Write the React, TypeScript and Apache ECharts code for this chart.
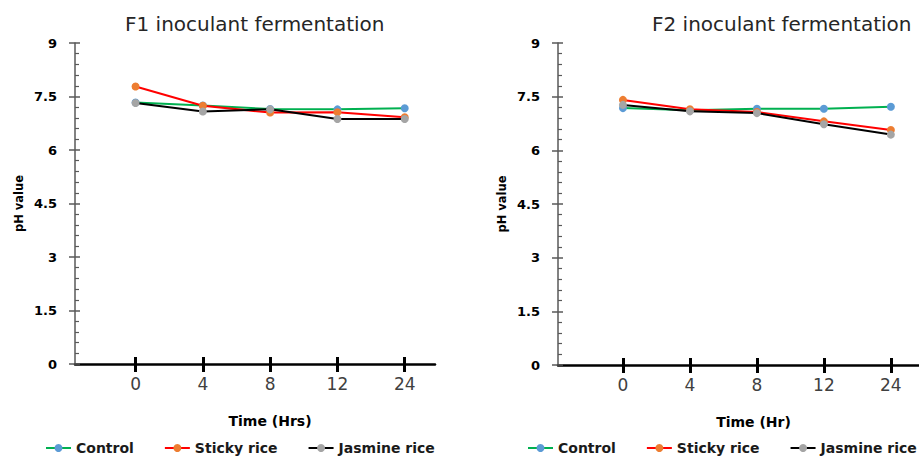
import React, { useEffect, useRef } from "react";
import * as echarts from "echarts";

const timeLabels = ["0", "4", "8", "12", "24"];
const seriesNames = ["Control", "Sticky rice", "Jasmine rice"];
const controlF1 = [7.33, 7.25, 7.15, 7.14, 7.17];
const stickyF1 = [7.78, 7.24, 7.05, 7.06, 6.92];
const jasmineF1 = [7.32, 7.08, 7.14, 6.87, 6.87];
const controlF2 = [7.18, 7.12, 7.16, 7.16, 7.22];
const stickyF2 = [7.41, 7.15, 7.07, 6.81, 6.57];
const jasmineF2 = [7.27, 7.09, 7.04, 6.73, 6.44];
const titles = ["F1 inoculant fermentation", "F2 inoculant fermentation"];
const xNames = ["Time (Hrs)", "Time (Hr)"];
const yName = "pH value";

const lineColors = ["#00b050", "#ff0000", "#000000"];
const markerColors = ["#5b9bd5", "#ed7d31", "#a5a5a5"];
const FONT = "'DejaVu Sans', sans-serif";

export default function App() {
  const ref = useRef<HTMLDivElement>(null);
  useEffect(() => {
    if (!ref.current) return;
    const chart = echarts.init(ref.current, null, { renderer: "svg" });
    const idx = timeLabels.map((_, i) => i);
    const grids = [
      { left: 75, top: 43, width: 360, height: 321 },
      { left: 558, top: 43, width: 361, height: 322 },
    ];
    const xRanges = [
      [-0.9, 4.45],
      [-0.97, 4.42],
    ];
    const panels = [
      [controlF1, stickyF1, jasmineF1],
      [controlF2, stickyF2, jasmineF2],
    ];
    const xAxis: any[] = [];
    const yAxis: any[] = [];
    const series: any[] = [];
    grids.forEach((_, g) => {
      xAxis.push({
        type: "value",
        gridIndex: g,
        position: "bottom",
        min: xRanges[g][0],
        max: xRanges[g][1],
        splitLine: { show: false },
        axisLine: { show: true, onZero: false, lineStyle: { color: "#000", width: 2.5 } },
        axisTick: { show: true, customValues: idx, length: 8, lineStyle: { color: "#000", width: 3 } },
        axisLabel: {
          customValues: idx,
          formatter: (v: number) => timeLabels[Math.round(v)] ?? "",
          fontSize: 17,
          color: "#404040",
          fontFamily: FONT,
          margin: 11,
        },
        name: xNames[g],
        nameLocation: "middle",
        nameGap: 50,
        nameTextStyle: { fontSize: 14, fontWeight: "bold", color: "#000", fontFamily: FONT, padding: [0, 0, 0, 30] },
      });
      xAxis.push({
        type: "value",
        gridIndex: g,
        position: "bottom",
        min: xRanges[g][0],
        max: xRanges[g][1],
        splitLine: { show: false },
        axisLine: { show: false, onZero: false },
        axisTick: { show: true, inside: true, customValues: idx, length: 7, lineStyle: { color: "#000", width: 3 } },
        axisLabel: { show: false },
      });
      yAxis.push({
        type: "value",
        gridIndex: g,
        position: "left",
        min: 0,
        max: 9,
        interval: 1.5,
        splitLine: { show: false },
        axisLine: { show: true, onZero: false, lineStyle: { color: "#595959", width: 1.5 } },
        axisTick: { show: true, inside: true, length: 5, lineStyle: { color: "#595959", width: 1.5 } },
        minorTick: { show: true, splitNumber: 5, length: 4, lineStyle: { color: "#595959", width: 1.2 } },
        axisLabel: { fontSize: 13, fontWeight: "bold", color: "#000", fontFamily: FONT, margin: 18 },
        name: yName,
        nameLocation: "middle",
        nameRotate: 90,
        nameGap: 50,
        nameTextStyle: { fontSize: 11.5, fontWeight: "bold", color: "#000", fontFamily: FONT },
      });
      yAxis.push({
        type: "value",
        gridIndex: g,
        position: "left",
        min: 0,
        max: 9,
        interval: 1.5,
        splitLine: { show: false },
        axisLine: { show: false, onZero: false },
        axisTick: { show: true, inside: false, length: 6, lineStyle: { color: "#595959", width: 1.5 } },
        axisLabel: { show: false },
      });
      panels[g].forEach((vals, s) => {
        series.push({
          type: "line",
          name: seriesNames[s],
          xAxisIndex: g * 2,
          yAxisIndex: g * 2,
          data: vals.map((v, i) => [idx[i], v]),
          symbol: "circle",
          symbolSize: 8,
          lineStyle: { color: lineColors[s], width: 2 },
          itemStyle: { color: markerColors[s] },
          z: 2 + s,
        });
      });
    });
    chart.setOption({
      animation: false,
      backgroundColor: "#fff",
      title: [
        { text: titles[0], left: 125, top: 14, padding: 0, textStyle: { fontSize: 20, fontWeight: "normal", color: "#262626", fontFamily: FONT } },
        { text: titles[1], left: 652, top: 14, padding: 0, textStyle: { fontSize: 20, fontWeight: "normal", color: "#262626", fontFamily: FONT } },
      ],
      grid: grids,
      xAxis,
      yAxis,
      series,
      legend: [45, 527].map((left) => ({
        data: seriesNames,
        left,
        top: 441,
        width: 392,
        itemWidth: 25,
        itemHeight: 10,
        itemGap: 30,
        padding: 0,
        textStyle: { fontSize: 14, fontWeight: "bold", color: "#1a1a1a", fontFamily: FONT },
      })),
    });
    return () => chart.dispose();
  }, []);
  return <div ref={ref} style={{ position: "absolute", left: 0, top: 0, width: 919, height: 457 }} />;
}
